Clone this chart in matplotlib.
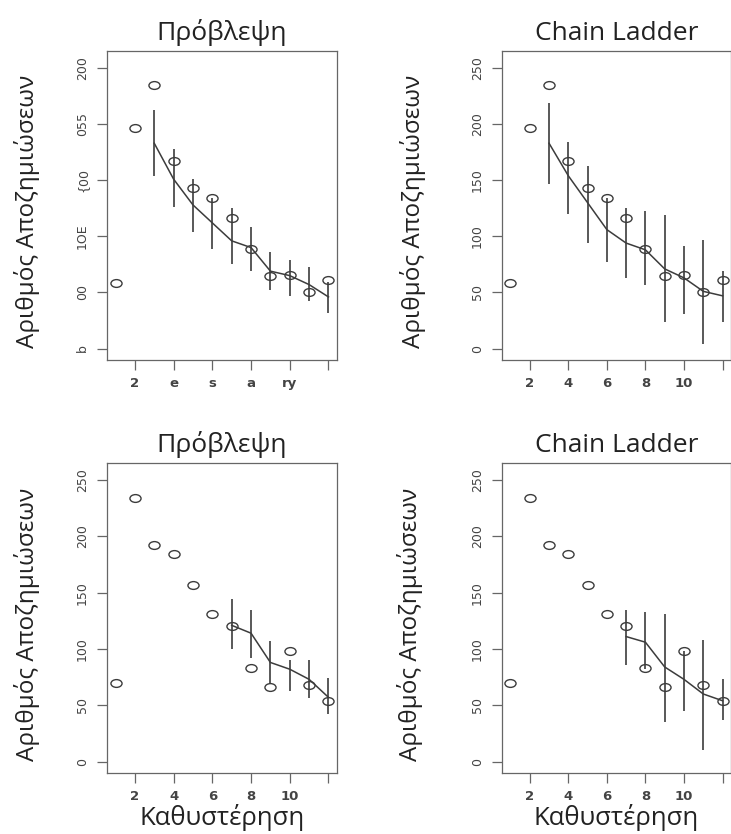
import numpy as np
import matplotlib
matplotlib.use('Agg')
import matplotlib.pyplot as plt
from matplotlib.path import Path
from matplotlib.transforms import Affine2D

plt.rcParams['font.family'] = ['Open Sans', 'DejaVu Sans']

# observed counts per delay
delay = np.arange(1, 13)
obs_top = [58, 197, 235, 167, 143, 134, 116, 89, 65, 66, 50, 61]
obs_bottom = [70, 234, 192, 184, 157, 131, 120, 83, 66, 98, 68, 54]

# fitted line + intervals, top row (from delay 3)
top_x = np.arange(3, 13)
pred_top = [183, 151, 128, 112, 96, 90, 69, 65, 57, 46]
pred_top_lo = [154, 126, 104, 89, 75, 69, 52, 47, 42, 32]
pred_top_hi = [213, 178, 151, 134, 125, 108, 86, 79, 73, 59]
cl_top = [183, 154, 130, 106, 94, 88, 71, 63, 51, 47]
cl_top_lo = [147, 120, 94, 77, 63, 57, 24, 31, 4, 24]
cl_top_hi = [219, 184, 163, 134, 125, 123, 119, 91, 97, 69]

# bottom row (from delay 7)
bot_x = np.arange(7, 13)
pred_bot = [121, 114, 88, 82, 73, 57]
pred_bot_lo = [100, 92, 69, 63, 56, 42]
pred_bot_hi = [144, 135, 107, 90, 90, 74]
cl_bot = [111, 106, 84, 73, 60, 54]
cl_bot_lo = [86, 82, 35, 45, 10, 37]
cl_bot_hi = [135, 133, 131, 98, 108, 73]

yticks = [0, 50, 100, 150, 200, 250]
xticks = [2, 4, 6, 8, 10, 12]
xtick_labels = ['2', '4', '6', '8', '10', '']
# the first panel came out with mangled tick labels in the original
bad_ylabels = ['b', '00', '1OE', '{00', '055', '200']
bad_xlabels = ['2', 'e', 's', 'a', 'ry', '']

ell = Path.unit_circle().transformed(Affine2D().scale(1.0, 0.7))
col = '#3c3c3c'
narrow = ['Liberation Sans Narrow', 'DejaVu Sans']

fig = plt.figure(figsize=(7.31, 8.34), dpi=100)
boxes = [
    [107/731, 1 - 360/834, 230/731, 309/834],
    [502/731, 1 - 360/834, 229/731, 309/834],
    [107/731, 1 - 773/834, 230/731, 310/834],
    [502/731, 1 - 773/834, 229/731, 310/834],
]
ylab_x = [-0.348, -0.39, -0.348, -0.40]
panels = [
    ('Πρόβλεψη', obs_top, top_x, pred_top, pred_top_lo, pred_top_hi),
    ('Chain Ladder', obs_top, top_x, cl_top, cl_top_lo, cl_top_hi),
    ('Πρόβλεψη', obs_bottom, bot_x, pred_bot, pred_bot_lo, pred_bot_hi),
    ('Chain Ladder', obs_bottom, bot_x, cl_bot, cl_bot_lo, cl_bot_hi),
]

for i, (title, obs, fx, fit, lo, hi) in enumerate(panels):
    ax = fig.add_axes(boxes[i])
    ax.plot(delay, obs, linestyle='none', marker=ell, markersize=8,
            mfc='none', mec=col, mew=1.0)
    ax.plot(fx, fit, color=col, lw=1.1)
    ax.vlines(fx, lo, hi, color=col, lw=1.2)
    ax.set_xlim(0.56, 12.44)
    ax.set_ylim(-10.2, 265.2)
    ax.set_yticks(yticks)
    ax.set_xticks(xticks)
    if i == 0:
        ax.set_yticklabels(bad_ylabels)
        ax.set_xticklabels(bad_xlabels)
    else:
        ax.set_yticklabels([str(v) for v in yticks])
        ax.set_xticklabels(xtick_labels)
    for lab in ax.get_yticklabels():
        lab.set_rotation(90)
        lab.set_va('center')
        lab.set_family(narrow)
    ax.tick_params(axis='y', length=7, width=0.9, color='#666666', labelsize=9,
                   labelcolor='#444444', pad=6)
    ax.tick_params(axis='x', length=7, width=0.9, color='#666666', labelsize=9.5,
                   labelcolor='#444444', pad=5)
    for lab in ax.get_xticklabels():
        lab.set_fontweight('bold')
        lab.set_family(['DejaVu Sans'])
    for s in ax.spines.values():
        s.set_color('#666666')
        s.set_linewidth(0.9)
    ax.set_title(title, fontsize=19, color='#222222', pad=8)
    ax.set_ylabel('Αριθμός Αποζημιώσεων', fontsize=17.5, color='#222222', va='center')
    ax.yaxis.set_label_coords(ylab_x[i], 0.48)
    if i >= 2:
        ax.set_xlabel('Καθυστέρηση', fontsize=18.5, color='#222222', labelpad=1)

fig.savefig('out.png', dpi=100)
